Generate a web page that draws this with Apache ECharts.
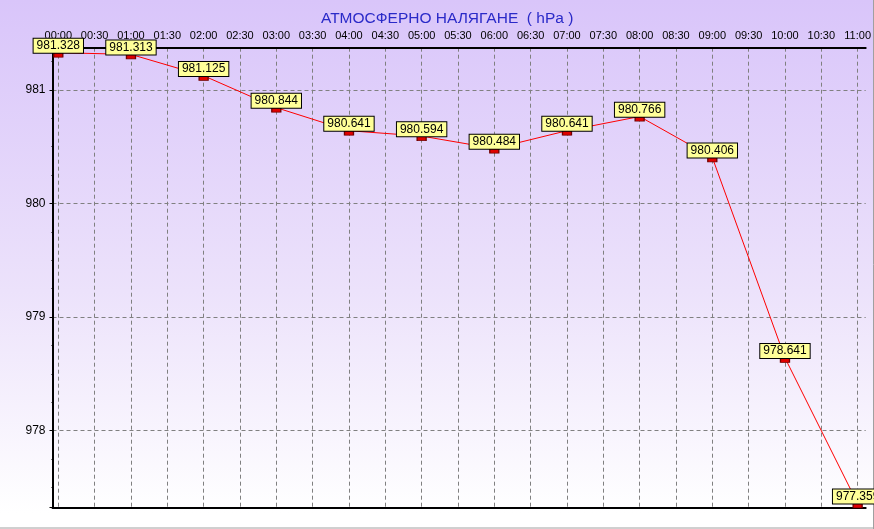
<!DOCTYPE html>
<html>
<head>
<meta charset="utf-8">
<script src="https://cdn.jsdelivr.net/npm/echarts@6/dist/echarts.min.js"></script>
<style>html,body{margin:0;padding:0;}#c{width:874px;height:529px;}</style>
</head>
<body>
<div id="c"></div>
<script>
var titleText = 'АТМОСФЕРНО НАЛЯГАНЕ  ( hPa )';
var timeLabels = ['00:00','00:30','01:00','01:30','02:00','02:30','03:00','03:30','04:00','04:30','05:00','05:30','06:00','06:30','07:00','07:30','08:00','08:30','09:00','09:30','10:00','10:30','11:00'];
var pointTimes = ['00:00','01:00','02:00','03:00','04:00','05:00','06:00','07:00','08:00','09:00','10:00','11:00'];
var pressure = [981.328, 981.313, 981.125, 980.844, 980.641, 980.594, 980.484, 980.641, 980.766, 980.406, 978.641, 977.359];
var yMin = 977.322, yMax = 981.372;

var seriesData = pointTimes.map(function (t, i) { return [t, pressure[i]]; });
var font = 'Liberation Sans, Arial, sans-serif';
var dashed = { color: '#808080', width: 1, type: [4, 3] };

var chart = echarts.init(document.getElementById('c'), null, { renderer: 'canvas' });
chart.setOption({
  animation: false,
  backgroundColor: {
    type: 'linear', x: 0, y: 0, x2: 0, y2: 1,
    colorStops: [{ offset: 0, color: '#d9c5fa' }, { offset: 0.55, color: '#ece2fb' }, { offset: 0.97, color: '#ffffff' }, { offset: 1, color: '#ffffff' }]
  },
  title: {
    text: titleText, left: 316, top: 6,
    textStyle: { color: '#2a2ac8', fontSize: 15.5, fontWeight: 'normal', fontFamily: font }
  },
  grid: [
    { left: 52.5, right: 8.3, top: 47.7, bottom: 21.3 },
    { left: 58.3, right: 13.7, top: 47.7, bottom: 21.3 }
  ],
  xAxis: [
    { gridIndex: 0, type: 'value', min: 0, max: 1, position: 'bottom',
      axisLine: { show: true, lineStyle: { color: '#000', width: 2 } },
      axisTick: { show: false }, axisLabel: { show: false }, splitLine: { show: false } },
    { gridIndex: 0, type: 'value', min: 0, max: 1, position: 'top',
      axisLine: { show: true, lineStyle: { color: '#000', width: 2 } },
      axisTick: { show: false }, axisLabel: { show: false }, splitLine: { show: false } },
    { gridIndex: 1, type: 'category', data: timeLabels, boundaryGap: false, position: 'top',
      axisLine: { show: false }, axisTick: { show: false },
      axisLabel: { show: true, interval: 0, color: '#000', fontSize: 11, fontFamily: font, margin: 6 },
      splitLine: { show: true, interval: 0, lineStyle: dashed } }
  ],
  yAxis: [
    { gridIndex: 0, type: 'value', min: yMin, max: yMax, splitNumber: 4, position: 'left',
      axisLine: { show: true, lineStyle: { color: '#000', width: 2 } },
      axisTick: { show: true, length: 3, lineStyle: { color: '#000' } },
      minorTick: { show: true, splitNumber: 4, length: 1, lineStyle: { color: '#000' } },
      axisLabel: { show: true, color: '#000', fontSize: 12, fontFamily: font, margin: 7, showMinLabel: false, showMaxLabel: false },
      splitLine: { show: true, lineStyle: dashed } },
    { gridIndex: 0, type: 'value', min: yMin, max: yMax, position: 'right',
      axisLine: { show: true, lineStyle: { color: '#000', width: 1 } },
      axisTick: { show: false }, axisLabel: { show: false }, splitLine: { show: false } },
    { gridIndex: 1, type: 'value', min: yMin, max: yMax, show: false }
  ],
  graphic: [
    { type: 'line', shape: { x1: 0, y1: 528, x2: 874, y2: 528 }, style: { stroke: '#a0a0a0', lineWidth: 1 } },
    { type: 'line', shape: { x1: 873.5, y1: 0, x2: 873.5, y2: 529 }, style: { stroke: '#a0a0a0', lineWidth: 1 } }
  ],
  series: [{
    type: 'line', xAxisIndex: 2, yAxisIndex: 2, data: seriesData,
    lineStyle: { color: '#ff0000', width: 1 },
    symbol: 'rect', symbolSize: [9, 5], symbolOffset: [0, 2],
    itemStyle: { color: '#e00000', borderColor: '#700000', borderWidth: 1 },
    label: {
      show: true, position: 'top', distance: -1,
      formatter: function (p) { return p.value[1].toFixed(3); },
      backgroundColor: '#ffff99', borderColor: '#000', borderWidth: 1,
      padding: [1, 3, 1, 3], color: '#000', fontSize: 12, fontFamily: font
    },
    z: 5
  }]
});
</script>
</body>
</html>
